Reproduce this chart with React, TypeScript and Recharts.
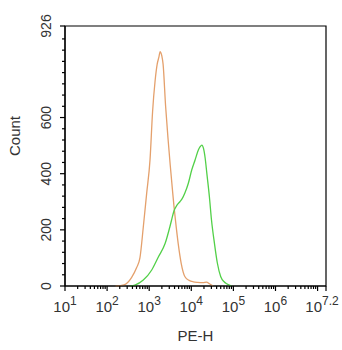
import { LineChart, Line, XAxis, YAxis, ReferenceArea } from "recharts";

// x values are log10 of PE-H
const orangeX = [2.2, 2.4, 2.58, 2.7, 2.78, 2.86, 2.94, 3.02, 3.08, 3.14, 3.19, 3.23, 3.26, 3.28, 3.3, 3.33, 3.39, 3.45, 3.5, 3.56, 3.59, 3.62, 3.69, 3.76, 3.85, 3.95, 4.05, 4.15, 4.28, 4.36, 4.44, 4.52];
const orangeY = [0, 4, 30, 65, 100, 210, 330, 450, 620, 730, 790, 815, 835, 830, 820, 790, 640, 520, 430, 330, 282, 240, 150, 81, 33, 20, 15, 13, 12, 14, 7, 0];

const greenX = [2.55, 2.66, 2.86, 3.06, 3.22, 3.38, 3.49, 3.54, 3.59, 3.66, 3.73, 3.78, 3.85, 3.93, 4.01, 4.09, 4.17, 4.21, 4.25, 4.29, 4.33, 4.37, 4.43, 4.48, 4.55, 4.62, 4.7, 4.78, 4.84, 4.96];
const greenY = [0, 3, 21, 57, 104, 152, 210, 240, 268, 288, 300, 310, 332, 366, 413, 449, 485, 496, 502, 490, 455, 400, 318, 235, 152, 81, 33, 15, 8, 0];

const xMajor = [1, 2, 3, 4, 5, 6, 7, 7.2];
const xMajorLabels = ["1", "2", "3", "4", "5", "6", "", "7.2"];
const yMajor = [0, 200, 400, 600, 926];
const yMinorStep = 40;

const orangeData = orangeX.map((x, i) => ({ x, count: orangeY[i] }));
const greenData = greenX.map((x, i) => ({ x, count: greenY[i] }));

const xMinor: number[] = [];
for (let d = 1; d < 7; d++) {
  for (let k = 2; k <= 9; k++) xMinor.push(d + Math.log10(k));
}
const xTicks = [...xMajor, ...xMinor.filter((t) => t < 7.2)];

const yMinor: number[] = [];
for (let v = yMinorStep; v < 926 - 10; v += yMinorStep) {
  if (!yMajor.includes(v)) yMinor.push(v);
}
const yTicks = [...yMajor, ...yMinor];

const font = "'Liberation Sans', Arial, sans-serif";
const textColor = "#333";

function XTick(props: any) {
  const { x, y, payload } = props;
  const idx = xMajor.indexOf(payload.value);
  const major = idx >= 0;
  const label = major ? xMajorLabels[idx] : "";
  const shift = payload.value === 7.2 ? -4 : 0;
  return (
    <g>
      <line x1={x} x2={x} y1={y} y2={y + (major ? 5 : 3)} stroke="#000" strokeWidth={1.2} />
      {label && (
        <text x={x + shift} y={y + 26} textAnchor="middle" fontFamily={font} fill={textColor}>
          <tspan fontSize={15}>10</tspan>
          <tspan fontSize={12} dy={-7}>{label}</tspan>
        </text>
      )}
    </g>
  );
}

function YTick(props: any) {
  const { x, y, payload } = props;
  const major = yMajor.includes(payload.value);
  return (
    <g>
      <line x1={x - (major ? 5 : 3)} x2={x} y1={y} y2={y} stroke="#000" strokeWidth={1.2} />
      {major && (
        <text
          x={51}
          y={y}
          transform={`rotate(-90 51 ${y})`}
          textAnchor="middle"
          fontSize={14}
          fontFamily={font}
          fill={textColor}
        >
          {payload.value}
        </text>
      )}
    </g>
  );
}

export default function App() {
  return (
    <div style={{ position: "absolute", left: 0, top: 0, background: "#fff" }}>
      <LineChart width={342} height={350} margin={{ top: 26, right: 16, bottom: 0, left: 0 }}>
        <XAxis
          dataKey="x"
          type="number"
          domain={[1, 7.2]}
          ticks={xTicks}
          interval={0}
          tick={<XTick />}
          tickLine={false}
          tickSize={0}
          tickMargin={0}
          height={64}
          axisLine={{ stroke: "#000", strokeWidth: 1.2 }}
          allowDuplicatedCategory={false}
          label={{ value: "PE-H", position: "insideBottom", offset: 9, fontSize: 15, fontFamily: font, fill: textColor }}
        />
        <YAxis
          type="number"
          domain={[0, 926]}
          ticks={yTicks}
          interval={0}
          tick={<YTick />}
          tickLine={false}
          tickSize={0}
          tickMargin={0}
          width={65}
          axisLine={{ stroke: "#000", strokeWidth: 1.2 }}
          label={{ value: "Count", angle: -90, position: "insideLeft", offset: 15, fontSize: 15, fontFamily: font, fill: textColor }}
        />
        <ReferenceArea x1={1} x2={7.2} y1={0} y2={926} fill="none" stroke="#000" strokeWidth={1.2} />
        <Line
          data={orangeData}
          dataKey="count"
          type="monotone"
          stroke="#e4a06c"
          strokeWidth={1.3}
          dot={false}
          isAnimationActive={false}
        />
        <Line
          data={greenData}
          dataKey="count"
          type="monotone"
          stroke="#52d048"
          strokeWidth={1.3}
          dot={false}
          isAnimationActive={false}
        />
      </LineChart>
    </div>
  );
}
